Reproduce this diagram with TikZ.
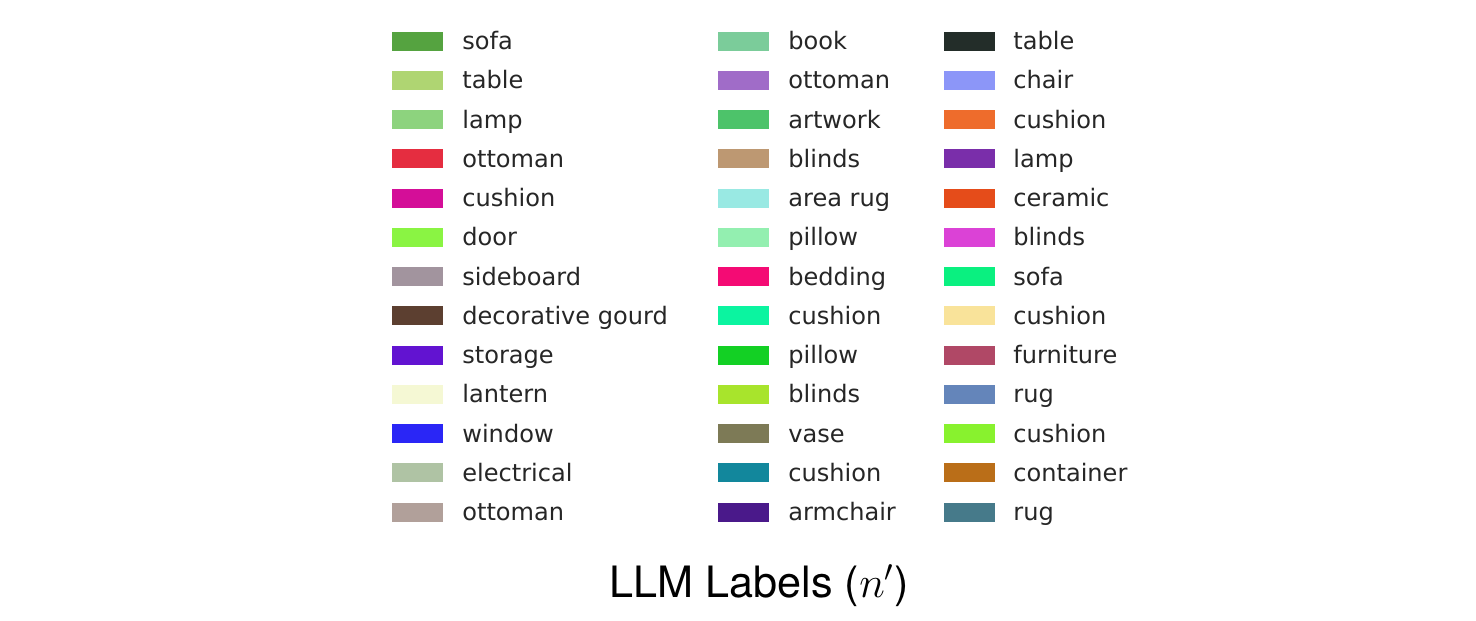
\documentclass[tikz,border=0pt]{standalone}
\usepackage{fontspec}
\setmainfont{DejaVu Sans}
\newfontfamily\titlefont{TeX Gyre Heros}

\tikzset{
  swatch/.style={fill=#1, draw=none, minimum width=1.02cm, minimum height=0.38cm, inner sep=0pt},
  itemlab/.style={anchor=base west, inner sep=0pt, text=black!85, font=\fontsize{13.7}{16}\selectfont},
}

\begin{document}
\begin{tikzpicture}[x=0.02cm,y=-0.02cm]
  \useasboundingbox (0,0) rectangle (1476,620);
  % first column
  \foreach \c/\t [count=\i from 0] in {55A340/sofa,AFD572/table,8DD37E/lamp,E52D40/ottoman,D40E98/cushion,8AF443/door,A2949E/sideboard,5C3F30/decorative gourd,6213D1/storage,F5F8D4/lantern,2A26F6/window,AFC3A4/electrical,B1A09A/ottoman}{
    \definecolor{sw}{HTML}{\c}
    \node[swatch=sw] (sa\i) at (417.5,41+39.25*\i) {};
    \node[itemlab] (la\i) at (462,49.5+39.25*\i) {\t};
  }
  % second column
  \foreach \c/\t [count=\i from 0] in {7BCC9A/book,A06CC8/ottoman,4DC36A/artwork,BD9872/blinds,99E9E3/area rug,93EFB0/pillow,F40B74/bedding,0BF4A0/cushion,13D024/pillow,A8E42C/blinds,7D7A56/vase,12879C/cushion,4A198A/armchair}{
    \definecolor{sw}{HTML}{\c}
    \node[swatch=sw] (sb\i) at (743.5,41+39.25*\i) {};
    \node[itemlab] (lb\i) at (788,49.5+39.25*\i) {\t};
  }
  % third column
  \foreach \c/\t [count=\i from 0] in {232D29/table,8C96F8/chair,EE6C2C/cushion,7A2EAA/lamp,E54C1A/ceramic,DB42D6/blinds,0AF080/sofa,F9E39A/cushion,B04866/furniture,6485BA/rug,88F22E/cushion,BA6E18/container,467A8A/rug}{
    \definecolor{sw}{HTML}{\c}
    \node[swatch=sw] (sc\i) at (969.5,41+39.25*\i) {};
    \node[itemlab] (lc\i) at (1013,49.5+39.25*\i) {\t};
  }
  \node[anchor=base, inner sep=0pt, font=\titlefont\fontsize{24.6}{29}\selectfont] (title) at (759,597) {LLM Labels ($n'$)};
\end{tikzpicture}
\end{document}
